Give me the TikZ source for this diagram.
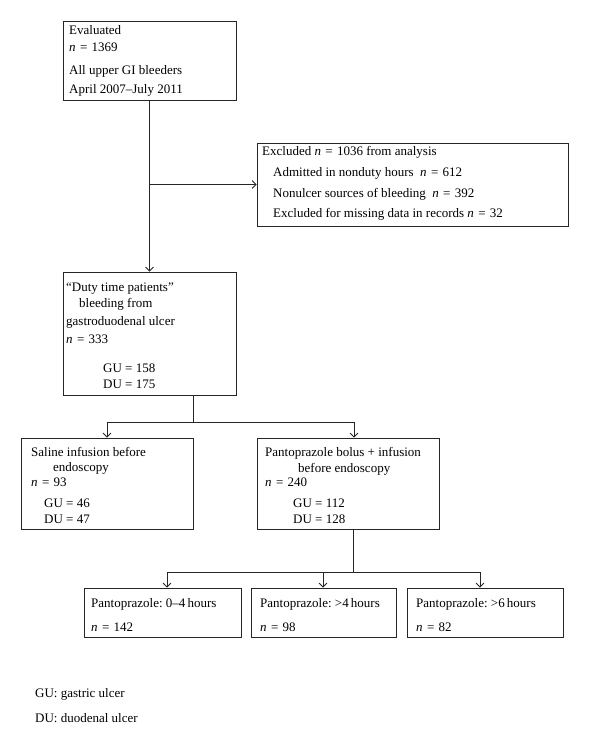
\documentclass[tikz,border=0pt]{standalone}
\usepackage{fontspec}
\setmainfont{Liberation Serif}
\usetikzlibrary{arrows.meta,calc}
\frenchspacing
\tikzset{
  box/.style={draw=black!85, line width=0.8pt, inner sep=0pt, rectangle},
  txt/.style={anchor=base west, inner sep=0pt, font=\fontsize{13}{15}\selectfont},
  conn/.style={draw=black!85, line width=0.8pt},
  arr/.style={conn, -{Straight Barb[length=4pt,width=8pt]}},
}
\newcommand{\nval}[1]{\textit{n}\,\,=\,\,#1}
\begin{document}
\begin{tikzpicture}[x=1pt,y=-1pt]
\useasboundingbox[fill=white] (0,0) rectangle (600,745);
% boxes
\node[box, minimum width=173pt, minimum height=79pt] (b1) at (149.5,60.5) {};
\node[box, minimum width=311pt, minimum height=83pt] (b2) at (412.5,184.5) {};
\node[box, minimum width=173pt, minimum height=123pt] (b3) at (149.5,333.5) {};
\node[box, minimum width=172pt, minimum height=91pt] (b4) at (107,483.5) {};
\node[box, minimum width=182pt, minimum height=91pt] (b5) at (348,483.5) {};
\node[box, minimum width=157pt, minimum height=49pt] (b6) at (162.5,612.5) {};
\node[box, minimum width=145pt, minimum height=49pt] (b7) at (323.5,612.5) {};
\node[box, minimum width=156pt, minimum height=49pt] (b8) at (485,612.5) {};
% texts box 1
\node[txt] (t1a) at (69,34) {Evaluated};
\node[txt] (t1b) at (69,51) {\nval{1369}};
\node[txt] (t1c) at (69,74) {All upper GI bleeders};
\node[txt] (t1d) at (69,93) {April 2007--July 2011};
% box 2
\node[txt] (t2a) at (262,155) {Excluded \nval{1036} from analysis};
\node[txt] (t2b) at (273,176) {Admitted in nonduty hours~~\nval{612}};
\node[txt] (t2c) at (273,197) {Nonulcer sources of bleeding~~\nval{392}};
\node[txt] (t2d) at (273,217) {Excluded for missing data in records \nval{32}};
% box 3
\node[txt] (t3a) at (66,291) {“Duty time patients”};
\node[txt] (t3b) at (79,307) {bleeding from};
\node[txt] (t3c) at (66,325) {gastroduodenal ulcer};
\node[txt] (t3d) at (66,343) {\nval{333}};
\node[txt] (t3e) at (103,372) {GU = 158};
\node[txt] (t3f) at (103,388) {DU = 175};
% box 4
\node[txt] (t4a) at (31,456) {Saline infusion before};
\node[txt] (t4b) at (53,471) {endoscopy};
\node[txt] (t4c) at (31,486) {\nval{93}};
\node[txt] (t4d) at (44,507) {GU = 46};
\node[txt] (t4e) at (44,523) {DU = 47};
% box 5
\node[txt] (t5a) at (265,456) {Pantoprazole bolus + infusion};
\node[txt] (t5b) at (298,472) {before endoscopy};
\node[txt] (t5c) at (265,486) {\nval{240}};
\node[txt] (t5d) at (293,507) {GU = 112};
\node[txt] (t5e) at (293,523) {DU = 128};
% boxes 6-8
\node[txt] (t6a) at (91,607) {Pantoprazole: 0--4\,hours};
\node[txt] (t6b) at (91,631) {\nval{142}};
\node[txt] (t7a) at (260,607) {Pantoprazole: >4\,hours};
\node[txt] (t7b) at (260,631) {\nval{98}};
\node[txt] (t8a) at (416,607) {Pantoprazole: >6\,hours};
\node[txt] (t8b) at (416,631) {\nval{82}};
% legend
\node[txt] (l1) at (35,697) {GU: gastric ulcer};
\node[txt] (l2) at (35,722) {DU: duodenal ulcer};
% connectors
\draw[arr] (b1) -- (b3);
\draw[arr] (b1.south |- b2.west) -- (b2.west);
\coordinate (j3) at (193,422);
\draw[conn] (b3.south -| j3) -- (j3);
\draw[arr] (j3) -| (b4.north);
\draw[arr] (j3) -| ($(b5.north)+(6,0)$);
\coordinate (j5) at (353,572);
\draw[conn] (b5.south -| j5) -- (j5);
\draw[arr] (j5) -| ($(b6.north)+(4.5,0)$);
\draw[arr] (j5) -| ($(b7.north)+(-0.5,0)$);
\draw[arr] (j5) -| ($(b8.north)+(-5,0)$);
\end{tikzpicture}
\end{document}
